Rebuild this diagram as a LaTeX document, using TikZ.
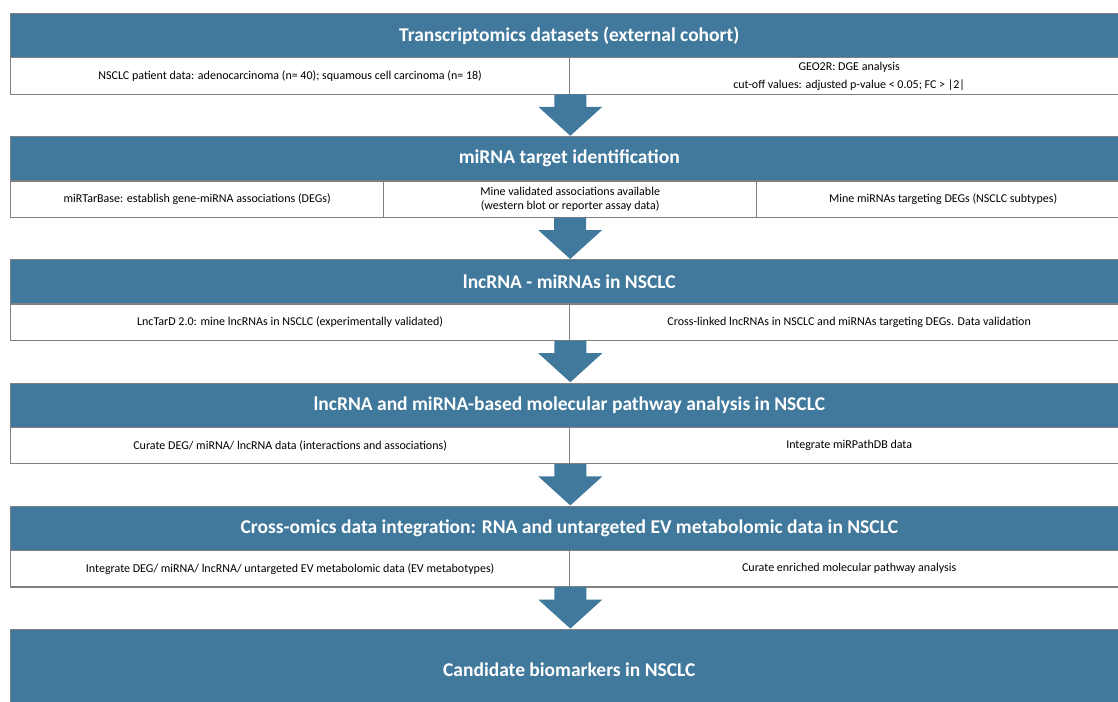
\documentclass[tikz,border=0pt]{standalone}
\usepackage{fontspec}
\setmainfont{Carlito}
\usetikzlibrary{calc}
\definecolor{hdr}{HTML}{41799C}
\definecolor{brd}{HTML}{808080}
\begin{document}
\begin{tikzpicture}[x=1pt,y=-1pt,
  hdrbox/.style={draw=brd, line width=0.6pt, fill=hdr, text=white,
    font=\fontsize{19.5}{23}\selectfont\bfseries, anchor=north west,
    minimum width=1118pt, minimum height=44pt, inner sep=0pt, align=center},
  subbox/.style={draw=brd, line width=1.3pt, fill=white,
    font=\fontsize{12}{13.5}\selectfont, anchor=north west,
    minimum height=36.5pt, inner sep=0pt, align=center},
  half/.style={subbox, minimum width=559pt},
  third/.style={subbox, minimum width=373pt},
  flow/.style={fill=hdr}]
\useasboundingbox (0,0) rectangle (1118,701);
\clip (0,0) rectangle (1118,701);
\newcommand{\blockarrow}[1]{%
  \fill[flow, shift={(#1)}] (-16,-0.5) -- (16,-0.5) -- (16,12) -- (32,12) -- (0,41) -- (-32,12) -- (-16,12) -- cycle;}

% Block 1
\node[hdrbox] (h1) at (10,13) {Transcriptomics datasets (external cohort)};
\node[half] (s1a) at (10,57) {NSCLC patient data: adenocarcinoma (n= 40); squamous cell carcinoma (n= 18)};
\node[half] (s1b) at (569,57) {GEO2R: DGE analysis\\[4.5pt]cut-off values: adjusted p-value < 0.05; FC > |2|};
\blockarrow{s1a.south east}

% Block 2
\node[hdrbox] (h2) at (10,136.2) {miRNA target identification};
\node[third] (s2a) at (10,180.2) {miRTarBase: establish gene-miRNA associations (DEGs)};
\node[third] (s2b) at (383,180.2) {Mine validated associations available\\(western blot or reporter assay data)};
\node[third] (s2c) at (756,180.2) {Mine miRNAs targeting DEGs (NSCLC subtypes)};
\blockarrow{s2b.south}

% Block 3
\node[hdrbox] (h3) at (10,259.4) {lncRNA - miRNAs in NSCLC};
\node[half] (s3a) at (10,303.4) {LncTarD 2.0: mine lncRNAs in NSCLC (experimentally validated)};
\node[half] (s3b) at (569,303.4) {Cross-linked lncRNAs in NSCLC and miRNAs targeting DEGs. Data validation};
\blockarrow{s3a.south east}

% Block 4
\node[hdrbox] (h4) at (10,382.6) {lncRNA and miRNA-based molecular pathway analysis in NSCLC};
\node[half] (s4a) at (10,426.6) {Curate DEG/ miRNA/ lncRNA data (interactions and associations)};
\node[half] (s4b) at (569,426.6) {Integrate miRPathDB data};
\blockarrow{s4a.south east}

% Block 5
\node[hdrbox] (h5) at (10,505.8) {Cross-omics data integration: RNA and untargeted EV metabolomic data in NSCLC};
\node[half] (s5a) at (10,549.8) {Integrate DEG/ miRNA/ lncRNA/ untargeted EV metabolomic data (EV metabotypes)};
\node[half] (s5b) at (569,549.8) {Curate enriched molecular pathway analysis};
\blockarrow{s5a.south east}

% Block 6
\node[hdrbox, minimum height=80pt] (h6) at (10,629) {Candidate biomarkers in NSCLC};
\end{tikzpicture}
\end{document}
